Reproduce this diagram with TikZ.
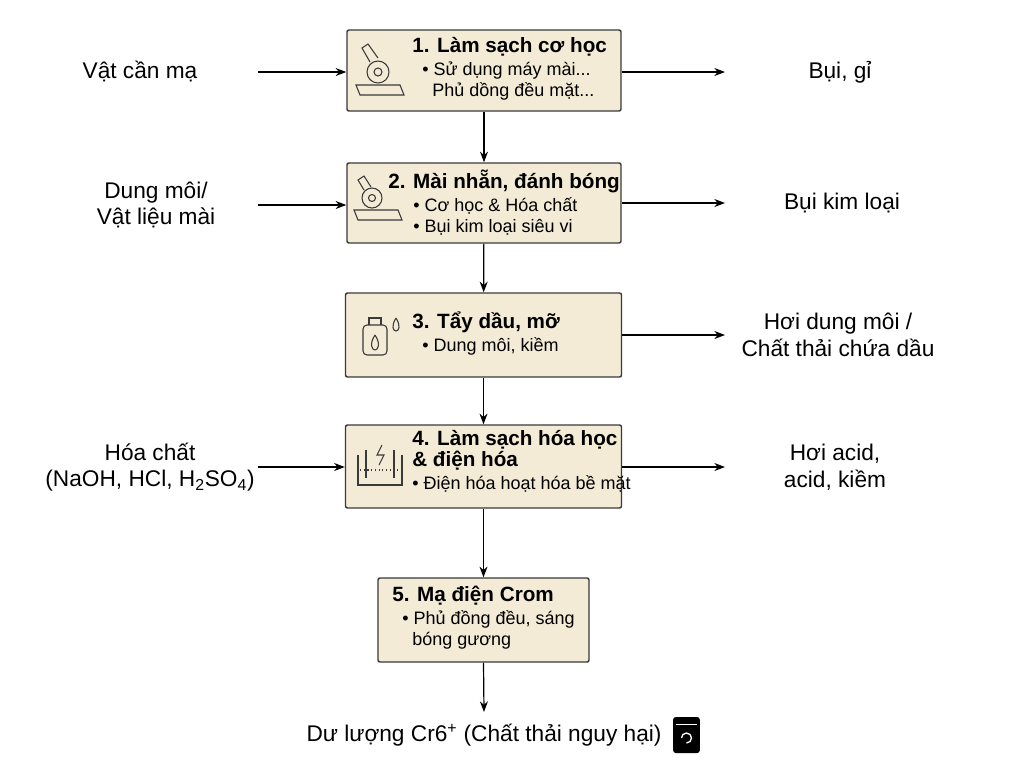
\documentclass[tikz,border=0pt]{standalone}
\usepackage{fontspec}
\setmainfont{Liberation Sans}
\usetikzlibrary{arrows.meta, positioning, calc}
\definecolor{boxfill}{HTML}{F3EBD6}
\definecolor{boxline}{HTML}{3A3A3A}
\tikzset{
    stepbox/.style = {draw=boxline, fill=boxfill, line width=1.1pt, rounded corners=1.5pt, inner sep=0pt},
    boxtext/.style = {align=left, anchor=north west, inner sep=0pt, font=\fontsize{13.5}{16}\selectfont},
    sidelabel/.style = {align=center, font=\fontsize{17}{20}\selectfont},
    flow/.style = {-{Stealth[length=8pt,width=6pt]}, line width=0.9pt},
    icon/.style = {draw=boxline, line width=0.8pt}
}
\newcommand{\ttl}[1]{{\bfseries\fontsize{15.5}{17}\selectfont #1}}
\begin{document}
\begin{tikzpicture}[x=0.75pt, y=-0.75pt]
    \useasboundingbox (0,0) rectangle (1020,765);
    % boxes
    \node[stepbox, minimum width=205.5pt, minimum height=60.75pt] (s1) at (484,70.5) {};
    \node[stepbox, minimum width=205.5pt, minimum height=60pt] (s2) at (484,203) {};
    \node[stepbox, minimum width=207pt, minimum height=63pt] (s3) at (483.5,335) {};
    \node[stepbox, minimum width=207pt, minimum height=62.25pt] (s4) at (483.5,466.5) {};
    \node[stepbox, minimum width=158.25pt, minimum height=63pt] (s5) at (483.5,620) {};
    % texts
    \node[boxtext] (t1) at (412,37) {\ttl{1. Làm sạch cơ học}\\[1pt] \ \ • Sử dụng máy mài...\\ \ \ \ \ Phủ dồng đều mặt...};
    \node[boxtext] (t2) at (388,170) {\ttl{2. Mài nhẵn, đánh bóng}\\[1pt] \ \ \ \ \ • Cơ học \& Hóa chất\\ \ \ \ \ \ • Bụi kim loại siêu vi};
    \node[boxtext] (t3) at (412,312) {\ttl{3. Tẩy dầu, mỡ}\\[1pt] \ \ • Dung môi, kiềm};
    \node[boxtext] (t4) at (412,430) {\ttl{4. Làm sạch hóa học}\\ \ttl{\& điện hóa}\\[1pt] • Điện hóa hoạt hóa bề mặt};
    \node[boxtext] (t5) at (392,586) {\ttl{5. Mạ điện Crom}\\[1pt] \ \ • Phủ đồng đều, sáng\\ \ \ \ \ bóng gương};
    % icons
    \draw[icon] (356,85) -- (400,85) -- (404,95) -- (360,95) -- cycle;
    \draw[icon] (378,72) circle (11); \draw[icon] (378,72) circle (4);
    \draw[icon] (370,62) -- (362,48) -- (368,44) -- (378,58);
    \draw[icon] (354,210) -- (398,210) -- (402,220) -- (358,220) -- cycle;
    \draw[icon] (372,198) circle (10); \draw[icon] (372,198) circle (3.5);
    \draw[icon] (364,190) -- (358,180) -- (364,176) -- (371,187);
    \draw[icon, rounded corners=3pt] (363,325) rectangle (387,355);
    \draw[icon] (369,325) -- (369,318) -- (381,318) -- (381,325);
    \draw[icon] (375,335) .. controls (369,344) and (372,350) .. (375,350) .. controls (378,350) and (381,344) .. (375,335);
    \draw[icon] (396,318) .. controls (391,326) and (393,331) .. (396,331) .. controls (399,331) and (401,326) .. (396,318);
    \draw[icon] (358,455) -- (358,485) -- (402,485) -- (402,455);
    \draw[icon] (366,450) -- (366,478); \draw[icon] (394,450) -- (394,478);
    \draw[icon, dotted] (360,470) -- (400,470);
    \draw[icon] (382,445) -- (377,455) -- (384,455) -- (379,465);
    % side labels
    \node[sidelabel] (in1) at (140,72) {Vật cần mạ};
    \node[sidelabel] (in2) at (156,205) {Dung môi/\\Vật liệu mài};
    \node[sidelabel] (in4) at (150,467) {Hóa chất\\(NaOH, HCl, H\textsubscript{2}SO\textsubscript{4})};
    \node[sidelabel] (out1) at (840,72) {Bụi, gỉ};
    \node[sidelabel] (out2) at (842,203) {Bụi kim loại};
    \node[sidelabel] (out3) at (838,335) {Hơi dung môi /\\Chất thải chứa dầu};
    \node[sidelabel] (out4) at (835,467) {Hơi acid,\\acid, kiềm};
    \node[sidelabel] (waste) at (484,735) {Dư lượng Cr6\textsuperscript{+} (Chất thải nguy hại)};
    % trash icon
    \node[fill=black, rounded corners=2pt, minimum width=20pt, minimum height=27pt, inner sep=0pt, right=5pt of waste] (bin) {};
    \draw[white, line width=1pt] ($(bin.north west)+(3,8)$) -- ($(bin.north east)+(-3,8)$);
    \draw[white, line width=1pt] ($(bin.center)+(-5,3)$) arc (180:450:5);
    % connectors
    \coordinate (c1) at (258,72); \coordinate (c2) at (258,205); \coordinate (c4) at (258,467);
    \coordinate (d1) at (725,72); \coordinate (d2) at (725,203); \coordinate (d3) at (725,335); \coordinate (d4) at (725,467);
    \draw[flow] (c1) -- (s1.west |- c1);
    \draw[flow] (c2) -- (s2.west |- c2);
    \draw[flow] (c4) -- (s4.west |- c4);
    \draw[flow] (s1.east |- d1) -- (d1);
    \draw[flow] (s2.east |- d2) -- (d2);
    \draw[flow] (s3.east |- d3) -- (d3);
    \draw[flow] (s4.east |- d4) -- (d4);
    \draw[flow] (s1) -- (s2);
    \draw[flow] (s2) -- (s3);
    \draw[flow] (s3) -- (s4);
    \draw[flow] (s4) -- (s5);
    \coordinate (e5) at (484,712);
    \draw[flow] (s5.south) -- (e5);
\end{tikzpicture}
\end{document}
